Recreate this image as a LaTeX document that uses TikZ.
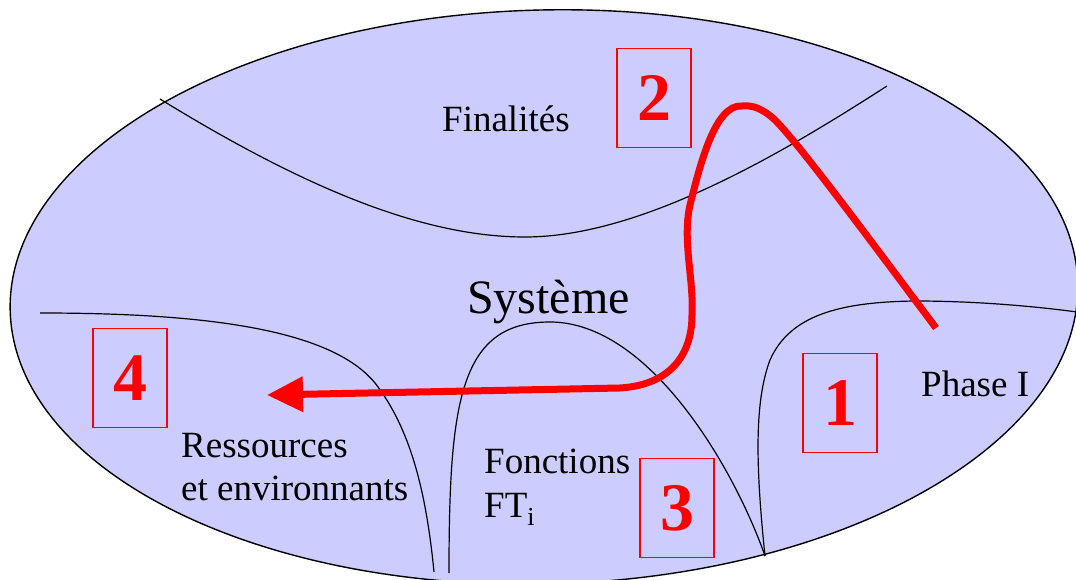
\documentclass[tikz,border=0pt]{standalone}
\usepackage{fontspec}
\setmainfont{Liberation Serif}
\usetikzlibrary{arrows.meta}
\definecolor{lavender}{RGB}{204,204,255}
\begin{document}
\begin{tikzpicture}[x=1pt,y=-1pt,
  region/.style={draw=black,line width=1.2pt},
  numbox/.style={draw=red,line width=1.3pt,minimum width=74pt,minimum height=99pt,inner sep=0pt,text=red,font=\fontsize{68}{68}\selectfont\bfseries},
  lbl/.style={anchor=base west,inner sep=0pt,font=\fontsize{37}{45}\selectfont},
  route/.style={draw=red,line width=7pt,line join=round,-{Triangle[length=36pt,width=34pt]}}]
\useasboundingbox (0,0) rectangle (1076,580);
% outer ellipse
\path[fill=lavender,draw=black,line width=1.4pt,rotate around={1.5:(544,297)}]
  (544,297) ellipse [x radius=534pt,y radius=287pt];
% region boundaries
\draw[region] (160,99) .. controls (300,185) and (420,237) .. (525,237)
  .. controls (640,237) and (780,155) .. (887,86);
\draw[region] (40,313) .. controls (200,313) and (330,328) .. (375,383)
  .. controls (410,428) and (426,490) .. (434,572);
\draw[region] (449,573) .. controls (449,400) and (460,322) .. (550,322)
  .. controls (650,322) and (735,470) .. (765,556);
\draw[region] (765,556) .. controls (755,460) and (755,400) .. (770,360)
  .. controls (790,315) and (840,302) .. (915,301)
  .. controls (980,301) and (1040,307) .. (1077,312);
% texts
\node[lbl] (fin) at (442,132) {Finalités};
\node[lbl,font=\fontsize{48}{50}\selectfont] (sys) at (467,313) {Système};
\node[lbl] (phase) at (921,396) {Phase I};
\node[lbl] (res1) at (181,457) {Ressources};
\node[lbl] (res2) at (181,500) {et environnants};
\node[lbl] (fon1) at (484,473) {Fonctions};
\node[lbl] (fon2) at (484,517) {FT\textsubscript{i}};
% numbered boxes
\node[numbox] (b2) at (654,98) {2};
\node[numbox] (b1) at (840,403) {1};
\node[numbox] (b3) at (677,508) {3};
\node[numbox] (b4) at (130,378) {4};
% red route
\coordinate (start) at (936,328);
\coordinate (goal) at (267,395);
\draw[route] (start) .. controls (870,240) and (800,145) .. (775,120)
  .. controls (762,108) and (752,105) .. (742,106)
  .. controls (715,104) and (700,165) .. (690,205)
  .. controls (682,240) and (694,280) .. (692,315)
  .. controls (692,355) and (670,385) .. (620,388)
  -- (goal);
\end{tikzpicture}
\end{document}
